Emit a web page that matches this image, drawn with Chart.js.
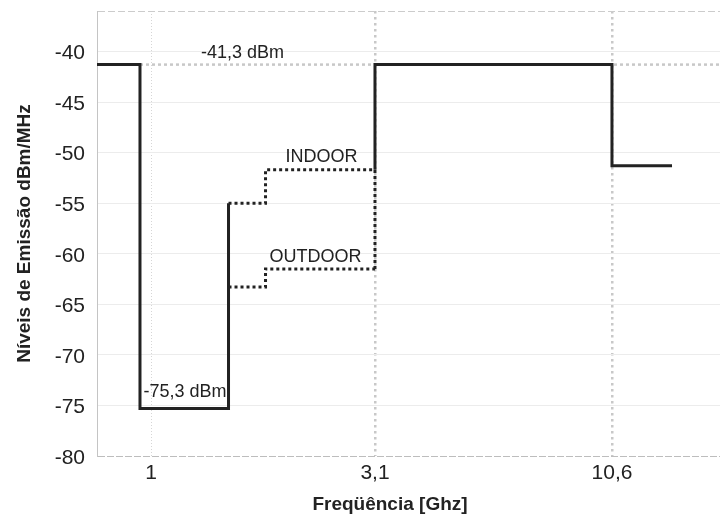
<!DOCTYPE html>
<html>
<head>
<meta charset="utf-8">
<script src="https://cdn.jsdelivr.net/npm/chart.js@4/dist/chart.umd.min.js"></script>
<style>
  html, body { margin: 0; padding: 0; background: #ffffff; }
  #wrap { width: 720px; height: 519px; }
</style>
</head>
<body>
<div id="wrap"><canvas id="c" width="720" height="519"></canvas></div>
<script>
// ---------------- DATA ----------------
// Frequency ticks (GHz) and their labels
const xTickValues = [1, 3.1, 10.6];
const xTickLabels = ['1', '3,1', '10,6'];
// Level ticks (dBm/MHz)
const yTickValues = [-80, -75, -70, -65, -60, -55, -50, -45, -40];

// Main (solid) emission mask: frequency (GHz) / level (dBm/MHz); null = break
const maskFreq  = [0.9,   0.96,  0.96,  1.61,  1.61,  1.61, 3.1,   3.1,   10.6,  10.6,  12];
const maskLevel = [-41.3, -41.3, -75.3, -75.3, -55.0, null, -51.7, -41.3, -41.3, -51.3, -51.3];

// Indoor limit (dotted)
const indoorFreq  = [1.61,  1.99,  1.99,  3.1,   3.1];
const indoorLevel = [-55.0, -55.0, -51.7, -51.7, -61.5];

// Outdoor limit (dotted)
const outdoorFreq  = [1.61,  1.99,  1.99,  3.1];
const outdoorLevel = [-63.3, -63.3, -61.5, -61.5];

// -41.3 dBm reference line (light dotted)
const refFreq  = [0.96,  13];
const refLevel = [-41.3, -41.3];

// Text annotations (text, GHz, dBm/MHz)
const noteText  = ['-41,3 dBm', 'INDOOR', 'OUTDOOR', '-75,3 dBm'];
const noteFreq  = [1.753, 2.558, 2.497, 1.268];
const noteLevel = [-40.15, -50.39, -60.32, -73.64];

// ---------------- schematic (non-linear) frequency axis ----------------
// GHz -> fraction of plot width
const X_ANCHORS = [[0.9, 0], [0.96, 0.069], [1, 0.0867], [1.61, 0.2111], [1.99, 0.2705],
                   [3.1, 0.4462], [10.6, 0.8266], [12, 0.923], [13, 1]];
const X_TITLE_SHIFT = -18.5;

class PiecewiseScale extends Chart.LinearScale {
  static id = 'piecewise';
  static defaults = {};
  frac(v) {
    const a = X_ANCHORS;
    let i = 1;
    while (i < a.length - 1 && v > a[i][0]) i++;
    const [x0, f0] = a[i - 1], [x1, f1] = a[i];
    return f0 + (v - x0) / (x1 - x0) * (f1 - f0);
  }
  inv(f) {
    const a = X_ANCHORS;
    let i = 1;
    while (i < a.length - 1 && f > a[i][1]) i++;
    const [x0, f0] = a[i - 1], [x1, f1] = a[i];
    return x0 + (f - f0) / (f1 - f0) * (x1 - x0);
  }
  buildTicks() { return xTickValues.map(v => ({ value: v })); }
  getPixelForValue(v) {
    if (v === null || v === undefined || isNaN(v)) return NaN;
    return this.getPixelForDecimal(this.frac(v));
  }
  getValueForPixel(p) { return this.inv(this.getDecimalForPixel(p)); }
  drawTitle() {
    const l = this.left, r = this.right;
    this.left = l + X_TITLE_SHIFT; this.right = r + X_TITLE_SHIFT;
    super.drawTitle();
    this.left = l; this.right = r;
  }
}
Chart.register(PiecewiseScale);

const pts = (xs, ys) => xs.map((x, i) => ({ x: x, y: ys[i] }));

const FONT = "'Liberation Sans', Arial, Helvetica, sans-serif";
const INK = '#222222';

const notesPlugin = {
  id: 'notes',
  afterDatasetsDraw(chart) {
    const ctx = chart.ctx, xs = chart.scales.x, ys = chart.scales.y;
    ctx.save();
    ctx.font = '18px ' + FONT;
    ctx.fillStyle = INK;
    ctx.textAlign = 'center';
    ctx.textBaseline = 'middle';
    noteText.forEach((t, i) => {
      ctx.fillText(t, xs.getPixelForValue(noteFreq[i]), ys.getPixelForValue(noteLevel[i]));
    });
    ctx.restore();
  }
};

const Y_MIN = -80, Y_MAX = -36;

new Chart(document.getElementById('c'), {
  type: 'line',
  data: {
    datasets: [
      { label: 'Máscara', data: pts(maskFreq, maskLevel), borderColor: INK, borderWidth: 3,
        pointRadius: 0, fill: false, tension: 0, spanGaps: false },
      { label: 'INDOOR', data: pts(indoorFreq, indoorLevel), borderColor: INK, borderWidth: 3,
        borderDash: [3, 3], pointRadius: 0, fill: false, tension: 0 },
      { label: 'OUTDOOR', data: pts(outdoorFreq, outdoorLevel), borderColor: INK, borderWidth: 3,
        borderDash: [3, 3], pointRadius: 0, fill: false, tension: 0 },
      { label: '-41,3 dBm', data: pts(refFreq, refLevel), borderColor: '#c8c8c8', borderWidth: 2.5,
        borderDash: [3, 3], pointRadius: 0, fill: false, tension: 0 }
    ]
  },
  options: {
    responsive: false,
    animation: false,
    devicePixelRatio: 1,
    layout: { padding: { top: 11, right: 0, bottom: 0, left: 0 } },
    plugins: { legend: { display: false }, tooltip: { enabled: false } },
    scales: {
      x: {
        type: 'piecewise',
        min: 0.9, max: 13,
        afterFit: s => { s.height = 63; s.paddingLeft = 0; s.paddingRight = 0; },
        grid: {
          drawTicks: false,
          color: c => (c.tick && c.tick.value === 1) ? '#d6d6d6' : '#c8c8c8',
          lineWidth: c => (c.tick && c.tick.value === 1) ? 1 : 2.5
        },
        border: {
          display: false,
          dash: c => (c.tick && c.tick.value === 1) ? [1, 2] : [2.5, 3.5]
        },
        ticks: {
          autoSkip: false, maxRotation: 0, padding: 5,
          color: INK, font: { family: FONT, size: 21 },
          callback: (v, i) => xTickLabels[i]
        },
        title: {
          display: true, text: 'Freqüência [Ghz]', color: INK,
          font: { family: FONT, size: 19, weight: 'bold' },
          padding: { top: 0, bottom: 3 }
        }
      },
      y: {
        type: 'linear',
        min: Y_MIN, max: Y_MAX,
        afterFit: s => { s.width = 97; s.paddingTop = 0; s.paddingBottom = 0; },
        afterBuildTicks: s => { s.ticks = yTickValues.concat([Y_MAX]).map(v => ({ value: v })); },
        grid: {
          drawTicks: false,
          color: c => {
            const v = c.tick ? c.tick.value : null;
            if (v === Y_MAX) return '#cccccc';
            if (v === Y_MIN) return '#bdbdbd';
            return '#ececec';
          },
          lineWidth: 1
        },
        border: {
          display: true, color: '#c4c4c4', width: 1,
          dash: c => {
            const v = c.tick ? c.tick.value : null;
            if (v === Y_MAX) return [7, 3];
            if (v === Y_MIN) return [7, 2];
            return [];
          }
        },
        ticks: {
          autoSkip: false, padding: 12, labelOffset: 2,
          color: INK, font: { family: FONT, size: 21 },
          callback: v => yTickValues.includes(v) ? String(v) : ''
        },
        title: {
          display: true, text: 'Níveis de Emissão dBm/MHz', color: INK,
          font: { family: FONT, size: 19, weight: 'bold' },
          padding: { top: 13, bottom: 0 }
        }
      }
    }
  },
  plugins: [notesPlugin]
});
</script>
</body>
</html>
